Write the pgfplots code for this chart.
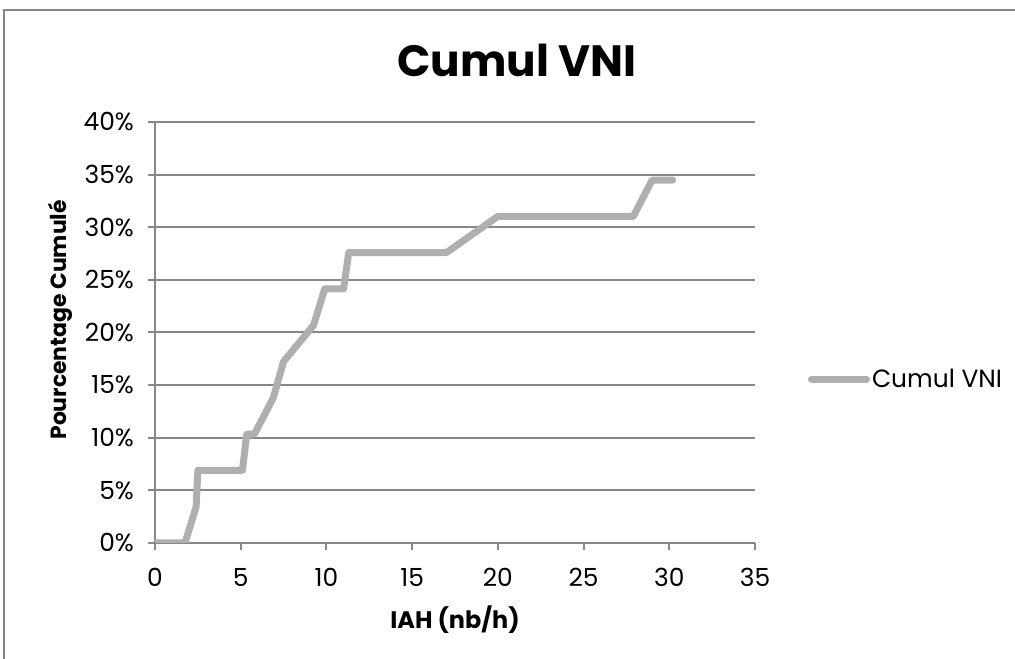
\documentclass[border=0pt]{standalone}
\usepackage{pgfplots}
\pgfplotsset{compat=1.18}
\usepackage{fontspec}
\setmainfont{Poppins}
\definecolor{lineg}{HTML}{AFAFAF}
\definecolor{gridg}{HTML}{878787}
\begin{document}
\begin{tikzpicture}[x=1bp,y=1bp]
\useasboundingbox (0,0) rectangle (1015,659);
\draw[gridg, line width=1.5bp] (4,-10) rectangle (1030,649);
\node[font=\fontsize{44}{48}\selectfont\bfseries, inner sep=0pt] at (517,599) {Cumul VNI};
\begin{axis}[
  at={(155bp,116bp)}, anchor=south west,
  scale only axis, width=600bp, height=421bp,
  xmin=0, xmax=35, ymin=0, ymax=40,
  xtick={0,5,...,35}, ytick={0,5,...,40},
  axis x line*=bottom, axis y line*=left,
  axis line style={gridg, line width=2bp, -},
  ymajorgrids, grid style={gridg, line width=2bp},
  tick style={gridg, line width=2bp},
  major tick length=7bp,
  tick align=outside,
  xtick pos=bottom, ytick pos=left,
  /pgf/number format/assume math mode=true,
  tick label style={font=\fontsize{25}{28}\selectfont, black, inner sep=0pt},
  xticklabel style={anchor=north, yshift=-18bp},
  yticklabel style={anchor=east, xshift=-14bp},
  yticklabel={\pgfmathprintnumber{\tick}\%},
  xlabel={IAH (nb/h)}, ylabel={Pourcentage Cumulé},
  xlabel style={font=\fontsize{24}{28}\selectfont\bfseries, at={(axis description cs:0.5,0)}, anchor=center, yshift=-77bp},
  ylabel style={font=\fontsize{22}{26}\selectfont\bfseries, at={(axis description cs:0,0.53)}, anchor=center, yshift=95bp},
  legend style={at={(axis description cs:1.088,0.3895)}, anchor=west, draw=none, fill=none, inner sep=0pt,
    font=\fontsize{25}{28}\selectfont, legend cell align=left},
  legend image code/.code={\draw[#1, line width=7bp] (0bp,0bp) -- (55bp,0bp);},
]
\addplot[lineg, line width=7bp, line cap=round, line join=round] coordinates {
(0,0) (1.75,0) (2.4,3.45) (2.5,6.90) (5.1,6.90) (5.35,10.34) (5.8,10.34)
(6.9,13.79) (7.5,17.24) (9.25,20.69) (9.9,24.14) (11.0,24.14) (11.3,27.59)
(17.0,27.59) (20.0,31.03) (27.9,31.03) (29.0,34.48) (30.2,34.48)
};
\addlegendentry{Cumul VNI}
\end{axis}
\end{tikzpicture}
\end{document}
